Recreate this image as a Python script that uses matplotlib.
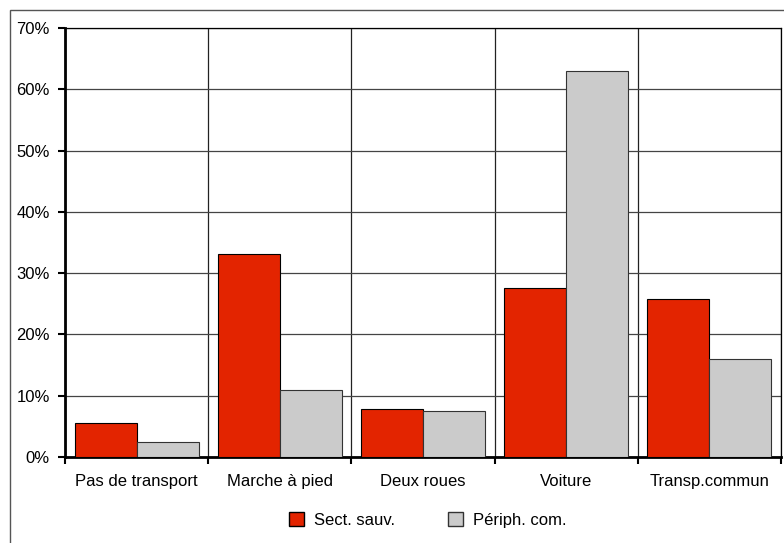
import numpy as np
import matplotlib
matplotlib.use('Agg')
import matplotlib.pyplot as plt
from matplotlib.patches import Rectangle, Patch
from matplotlib.ticker import PercentFormatter

categories = ['Pas de transport', 'Marche à pied', 'Deux roues', 'Voiture', 'Transp.commun']
sect_sauv = [5.5, 33.2, 7.9, 27.6, 25.7]
periph_com = [2.5, 10.9, 7.5, 63.0, 16.0]
yticks = [0, 10, 20, 30, 40, 50, 60, 70]

plt.rcParams['font.family'] = ['Liberation Sans', 'DejaVu Sans']

fig = plt.figure(figsize=(7.84, 5.43), dpi=100)
W, H = 784, 543
ax = fig.add_axes([65 / W, 1 - 457 / H, (781 - 65) / W, (457 - 28) / H])

# border around the whole chart
fig.patches.append(Rectangle((10 / W, -0.01), 1.05, 1 - 10 / H + 0.01, transform=fig.transFigure,
                             fill=False, edgecolor='#555555', linewidth=1))

x = np.arange(len(categories))
w = 0.433
ax.bar(x - w / 2, sect_sauv, w, color='#e32400', edgecolor='black', linewidth=0.8,
       label='Sect. sauv.', zorder=3)
ax.bar(x + w / 2, periph_com, w, color='#cbcbcb', edgecolor='#333333', linewidth=0.8,
       label='Périph. com.', zorder=3)

ax.set_xlim(-0.5, len(categories) - 0.5)
ax.set_ylim(0, 70)
ax.set_yticks(yticks)
ax.yaxis.set_major_formatter(PercentFormatter(decimals=0))
ax.set_xticks(x)
ax.set_xticklabels(categories)
ax.set_xticks(np.arange(len(categories) + 1) - 0.5, minor=True)
ax.tick_params(axis='x', which='major', length=0, pad=12.5, labelsize=12)
ax.tick_params(axis='x', which='minor', length=5, width=1.5, direction='out')
ax.tick_params(axis='y', length=5, width=1.5, direction='out', labelsize=12, pad=6)

ax.grid(axis='y', color='#444444', linewidth=0.9, zorder=0)
ax.grid(axis='x', which='minor', color='#222222', linewidth=0.9, zorder=0)

for s in ['top', 'right']:
    ax.spines[s].set_linewidth(0.9)
for s in ['left', 'bottom']:
    ax.spines[s].set_linewidth(2)

leg = fig.legend(handles=[Patch(facecolor='#e32400', edgecolor='black', label='Sect. sauv.'),
                          Patch(facecolor='#cbcbcb', edgecolor='#333333', label='Périph. com.')],
                 loc='center', bbox_to_anchor=(428 / W, 1 - 520 / H), ncol=2, frameon=False,
                 fontsize=12, handlelength=0.9, handleheight=0.9, columnspacing=3.2,
                 handletextpad=0.6)

fig.savefig('out.png', dpi=100)
